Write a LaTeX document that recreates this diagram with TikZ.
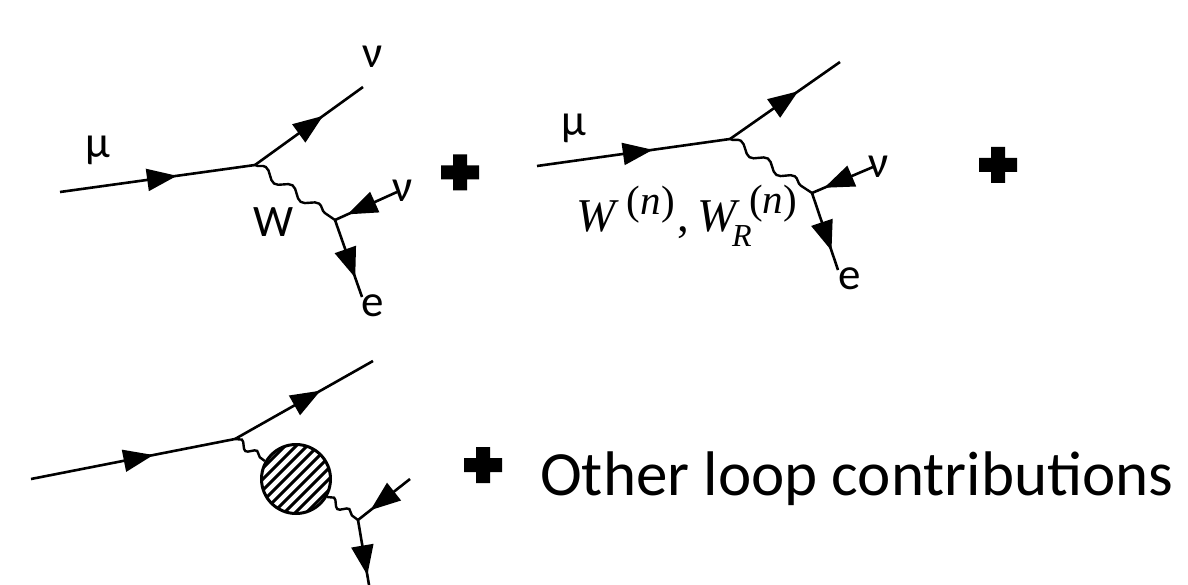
\documentclass[tikz,border=0pt]{standalone}
\usepackage{fontspec}
\setmainfont{Carlito}
\newfontfamily\mathserif{Liberation Serif}
\usetikzlibrary{arrows.meta,calc,decorations.markings,decorations.pathmorphing}
\newcommand{\parn}{\fontsize{41}{41}\selectfont\mathserif(\textit{n})}
\tikzset{
  x=1pt,y=-1pt,
  fermion/.style={line width=2.6pt,postaction={decorate},decoration={markings,mark=at position #1 with {\arrow{Triangle[length=30pt,width=22pt]}}}},
  boson/.style={line width=2.4pt,decorate,decoration={snake,segment length=32.3pt,amplitude=4.5pt}},
  smallboson/.style={line width=2.4pt,decorate,decoration={snake,segment length=19pt,amplitude=3.6pt}},
  plussign/.pic={\fill (-7,-18)--(7,-18)--(7,-7)--(19,-7)--(19,7)--(7,7)--(7,18)--(-7,18)--(-7,7)--(-19,7)--(-19,-7)--(-7,-7)--cycle;},
  lbl/.style={font=\fontsize{45}{45}\selectfont,inner sep=0pt,anchor=base},
}
\begin{document}
\begin{tikzpicture}
\useasboundingbox (0,0) rectangle (1188,585);
% diagram 1
\coordinate (a1) at (60,192); \coordinate (v1) at (255,165); \coordinate (n1) at (363,87);
\coordinate (w1) at (335,220); \coordinate (m1) at (397,192); \coordinate (e1) at (362,297);
\draw[fermion=0.6] (a1) -- (v1);
\draw[fermion=0.63] (v1) -- (n1);
\draw[boson] (v1) -- (w1);
\draw[fermion=0.8] (m1) -- (w1);
\draw[fermion=0.75] (w1) -- (e1);
\node[lbl] (lmu1) at (98,158) {μ};
\node[lbl] (lnu1) at (373,68) {ν};
\node[lbl] (lnu1b) at (403,202) {ν};
\node[lbl] (lW) at (274,237) {W};
\node[lbl] (le1) at (373,316) {e};
\pic at (460,172.5) {plussign};
% diagram 2
\coordinate (a2) at (537,166); \coordinate (v2) at (730,139); \coordinate (n2) at (840,62);
\coordinate (w2) at (812,193); \coordinate (m2) at (873,167); \coordinate (e2) at (838,270);
\draw[fermion=0.6] (a2) -- (v2);
\draw[fermion=0.62] (v2) -- (n2);
\draw[boson] (v2) -- (w2);
\draw[fermion=0.8] (m2) -- (w2);
\draw[fermion=0.75] (w2) -- (e2);
\node[lbl] (lmu2) at (574,136) {μ};
\node[lbl] (lnu2) at (879,178) {ν};
\node[lbl] (le2) at (850,289) {e};
\node[inner sep=0pt,anchor=base west,font=\fontsize{47}{47}\selectfont\mathserif] (lW2) at (576,232)
  {\textit{W}\kern8pt\raisebox{17pt}{\parn}\kern3pt,\kern8pt\textit{W}\rlap{\kern-8pt\raisebox{-15pt}{\fontsize{32}{32}\selectfont\textit{R}}}\kern9pt\raisebox{18pt}{\parn}};
\pic at (998,165) {plussign};
% diagram 3
\coordinate (a3) at (31,479); \coordinate (v3) at (235,439); \coordinate (n3) at (373,361);
\coordinate (w3) at (358,520); \coordinate (m3) at (410,479); \coordinate (e3) at (369,585);
\node[circle,minimum size=69pt,inner sep=0pt,line width=3pt,draw] (blob) at (296,479) {};
\begin{scope}
\clip (296,479) circle (34pt);
\foreach \d in {-44,-33,...,44}
  \draw[line width=3pt] ($(296,479)+(\d,0)+(-50,50)$) -- ($(296,479)+(\d,0)+(50,-50)$);
\end{scope}
\draw[fermion=0.6] (a3) -- (v3);
\draw[fermion=0.62] (v3) -- (n3);
\draw[smallboson] (v3) -- (blob.150);
\draw[smallboson] (blob.-30) -- (w3);
\draw[fermion=0.76] (m3) -- (w3);
\draw[fermion=0.85] (w3) -- (e3);
\pic at (483,465) {plussign};
\node[inner sep=0pt,anchor=west,font=\fontsize{63}{63}\selectfont] (other) at (540,479) {Other loop contributions};
\end{tikzpicture}
\end{document}
